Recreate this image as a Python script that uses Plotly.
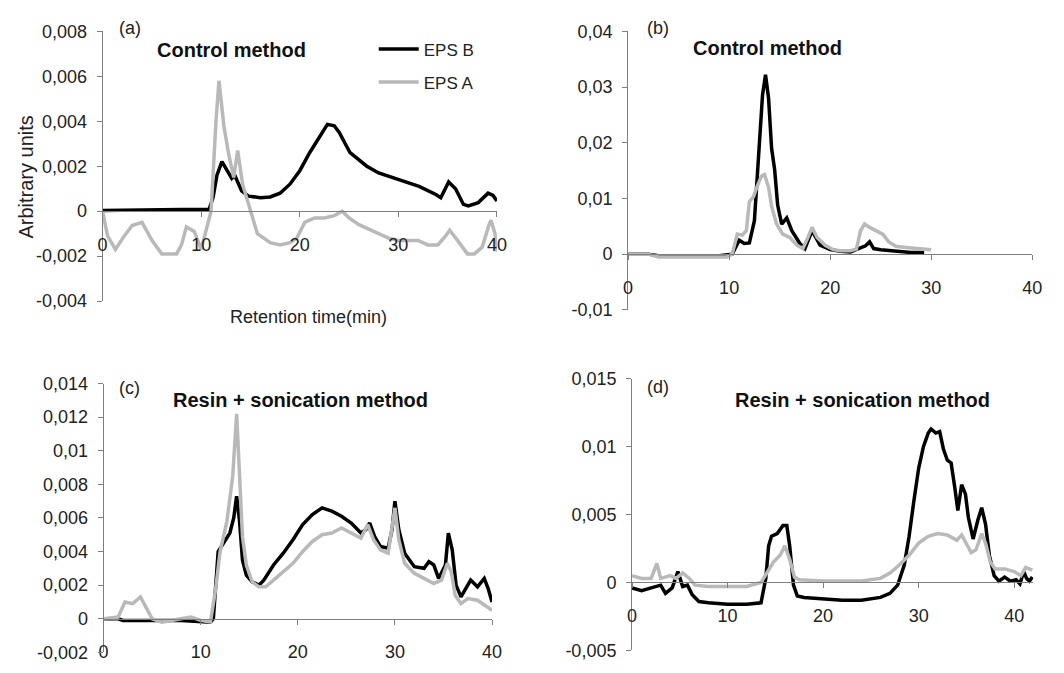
import plotly.graph_objects as go

# ---------------- data ----------------
# Panel (a) Control method
a_b_t = [0, 2, 4, 6, 8, 10, 10.8, 11.2, 11.6, 12.1, 12.5, 13.1, 13.4, 14.1, 14.8, 16, 17, 18, 19, 20, 21, 22,
         22.8, 23.5, 24, 25.1, 26, 26.8, 28, 30.1, 32.1, 33.8, 34.3, 35.1, 35.8, 36.6, 37.1, 38.1, 39.1, 39.6, 40]
a_b_v = [0.00003, 0.00005, 0.00006, 0.00006, 0.00007, 0.00008, 0.00008, 0.0006, 0.0016, 0.0022, 0.0019, 0.00146,
         0.0016, 0.0009, 0.00067, 0.0006, 0.00063, 0.0008, 0.0012, 0.0018, 0.0026, 0.0033, 0.00386, 0.0038, 0.0035,
         0.0026, 0.0023, 0.002, 0.0017, 0.0014, 0.0011, 0.00074, 0.0006, 0.0013, 0.001, 0.0003, 0.00023, 0.00038,
         0.0008, 0.0007, 0.00045]
a_a_t = [0, 0.5, 1.3, 2.2, 3, 4, 5, 6, 7.5, 8, 8.5, 9.3, 10, 10.5, 11, 11.5, 11.8, 12.3, 12.8, 13.3, 13.7, 14.2,
         14.7, 15, 15.7, 17, 18, 19, 19.7, 20.5, 21.5, 22.5, 23.5, 24.3, 25, 26, 27, 28, 29, 30, 32, 33, 34, 34.8,
         35.2, 36, 37, 37.7, 38.5, 39.2, 39.4, 39.8, 40]
a_a_v = [0, -0.0011, -0.0017, -0.0011, -0.00064, -0.0005, -0.0013, -0.0019, -0.0019, -0.0015, -0.0007, -0.0009,
         -0.0017, -0.0008, 0, 0.004, 0.0058, 0.0038, 0.0025, 0.0015, 0.0027, 0.0012, 0.0005, 0, -0.001, -0.0014,
         -0.0015, -0.0014, -0.0012, -0.0005, -0.0003, -0.0003, -0.0002, 0, -0.0003, -0.0006, -0.0008, -0.001,
         -0.0012, -0.0013, -0.0013, -0.0015, -0.0015, -0.0011, -0.00085, -0.0013, -0.0019, -0.0019, -0.0016,
         -0.0006, -0.0004, -0.001, -0.0018]

# Panel (b) Control method
b_b_t = [0, 2, 3, 6, 9, 10.3, 11, 11.5, 12, 12.5, 13, 13.3, 13.6, 13.9, 14.2, 14.5, 14.8, 15.2, 15.7, 16.2, 17,
         17.5, 18.2, 19, 20, 21, 22, 22.6, 23.5, 23.9, 24.3, 25, 26, 27, 28, 29.3]
b_b_v = [0, 0, -0.0003, -0.0003, -0.0003, 0, 0.0025, 0.0019, 0.002, 0.006, 0.019, 0.0285, 0.0322, 0.028, 0.019,
         0.0152, 0.0088, 0.0054, 0.0065, 0.0042, 0.0019, 0.001, 0.0042, 0.0016, 0.0008, 0.0005, 0.0004, 0.0008,
         0.0015, 0.0022, 0.001, 0.0008, 0.0006, 0.0005, 0.0003, 0.0003]
b_a_t = [0, 2, 3, 6, 9.8, 10.3, 10.8, 11.3, 11.7, 12, 12.4, 12.8, 13.2, 13.5, 13.9, 14.2, 14.7, 15.3, 16, 16.7,
         17.3, 17.8, 18.2, 18.7, 19.5, 20.3, 21, 22, 22.6, 23, 23.4, 23.9, 24.5, 25.2, 25.8, 26.5, 27.5, 28.5,
         29.5, 30]
b_a_v = [0, 0, -0.0005, -0.0005, -0.0005, 0, 0.0036, 0.0034, 0.0042, 0.0094, 0.0103, 0.0123, 0.014, 0.0143,
         0.012, 0.0086, 0.0054, 0.0036, 0.003, 0.0016, 0.001, 0.003, 0.0048, 0.003, 0.0016, 0.0008, 0.0006,
         0.0006, 0.0009, 0.0042, 0.0054, 0.0048, 0.0042, 0.0036, 0.0022, 0.0014, 0.0012, 0.001, 0.0009, 0.0008]

# Panel (c) Resin + sonication method
c_b_t = [0, 1.5, 2, 5, 8, 11, 11.3, 11.8, 12.5, 13, 13.4, 13.7, 14, 14.3, 14.7, 15.3, 16, 16.5, 17.5, 18.5, 19.5,
         20.5, 21.5, 22.5, 23.5, 24.5, 25.5, 26.5, 27, 27.4, 27.9, 28.5, 29.3, 29.7, 30, 30.4, 31, 32, 33, 33.5,
         34, 34.5, 35.2, 35.5, 35.9, 36.3, 36.8, 37.3, 37.8, 38.5, 39.2, 39.6, 40]
c_b_v = [0, 0, -0.0001, -0.0001, -0.0001, -0.0002, 0, 0.004, 0.0047, 0.0051, 0.006, 0.0073, 0.0058, 0.0035,
         0.0026, 0.0022, 0.002, 0.0023, 0.0032, 0.0039, 0.0047, 0.0056, 0.0062, 0.0066, 0.0064, 0.0061, 0.0057,
         0.0051, 0.0053, 0.0057, 0.0049, 0.0043, 0.0042, 0.0053, 0.007, 0.0053, 0.0039, 0.0031, 0.003, 0.0034,
         0.0032, 0.0024, 0.0032, 0.0051, 0.0041, 0.002, 0.0013, 0.0018, 0.0023, 0.0019, 0.0024, 0.0018, 0.001]
c_a_t = [0, 1.5, 2.2, 3, 3.8, 4.4, 5, 6, 8, 9, 10, 11, 11.5, 12, 12.7, 13.3, 13.7, 14, 14.3, 14.7, 15.3, 16, 16.7,
         17.5, 18.5, 19.5, 20.5, 21.5, 22.5, 23.5, 24.5, 25.5, 26.5, 27.2, 27.8, 28.5, 29.3, 30, 30.4, 31, 32, 33,
         34, 34.8, 35.4, 35.8, 36.2, 36.8, 37.5, 38.5, 39.3, 40]
c_a_v = [0, 0.0001, 0.001, 0.0009, 0.0013, 0.0007, 0, -0.0002, 0, 0.0001, -0.0001, -0.0002, 0.0016, 0.004,
         0.0058, 0.0085, 0.0122, 0.0089, 0.0049, 0.0032, 0.0022, 0.0019, 0.0019, 0.0023, 0.0028, 0.0033, 0.004,
         0.0046, 0.005, 0.0051, 0.0054, 0.0051, 0.0048, 0.0056, 0.0047, 0.0041, 0.0039, 0.0066, 0.0047, 0.0033,
         0.0027, 0.0024, 0.0021, 0.0023, 0.0033, 0.0028, 0.0014, 0.0009, 0.0012, 0.0011, 0.0008, 0.0005]

# Panel (d) Resin + sonication method
d_b_t = [0, 1, 2, 3, 3.5, 4.2, 4.8, 5.3, 5.8, 6.3, 7, 8, 10, 12, 13.5, 14, 14.3, 14.6, 15.2, 15.8, 16.2, 16.5,
         16.9, 17.3, 18, 20, 22, 24, 26, 27, 27.8, 28.5, 29, 29.5, 30, 30.5, 31, 31.3, 31.8, 32.2, 32.6, 33, 33.4,
         33.8, 34.1, 34.5, 34.9, 35.2, 35.7, 36.2, 36.6, 37, 37.4, 37.9, 38.4, 39, 39.6, 40.2, 40.6, 41, 41.3,
         41.6, 41.9]
d_b_v = [-0.0004, -0.0006, -0.0004, -0.0002, -0.0008, -0.0004, 0.0008, -0.0003, -0.0002, -0.0009, -0.0014,
         -0.0015, -0.0016, -0.0016, -0.0015, 0.0003, 0.0027, 0.0034, 0.0036, 0.0042, 0.0042, 0.0027, -0.0002,
         -0.001, -0.0011, -0.0012, -0.0013, -0.0013, -0.0011, -0.0008, -0.0002, 0.0013, 0.0034, 0.006, 0.0084,
         0.01, 0.011, 0.0113, 0.011, 0.0111, 0.0098, 0.009, 0.0088, 0.0069, 0.0053, 0.0072, 0.0065, 0.0048,
         0.0032, 0.0046, 0.0055, 0.0043, 0.002, 0.0005, 0.0001, 0.0004, 0.0001, 0.0002, -0.0001, 0.0008, 0.0003,
         0.0001, 0.0004]
d_a_t = [0, 1, 2, 2.6, 3, 3.5, 4, 4.6, 5.3, 6, 6.6, 8, 10, 12, 13.5, 14.2, 14.8, 15.5, 16, 16.5, 17, 17.5, 20,
         24, 26, 27, 28, 29, 30, 31, 32, 33, 34, 34.5, 35, 35.5, 36, 36.6, 37, 37.5, 38, 39, 40, 40.7, 41.2, 41.9]
d_a_v = [0.0005, 0.0003, 0.0003, 0.0014, 0.0003, 0.0004, 0.0005, 0.0003, 0.0007, 0.0003, -0.0002, -0.0003,
         -0.0003, -0.0003, 0, 0.0008, 0.0015, 0.002, 0.0027, 0.0017, 0.0004, 0.0002, 0.0001, 0.0001, 0.0003,
         0.0007, 0.0013, 0.002, 0.0029, 0.0034, 0.0036, 0.0035, 0.0031, 0.0035, 0.0029, 0.0022, 0.0024, 0.0036,
         0.0029, 0.0015, 0.001, 0.001, 0.0008, 0.0005, 0.0011, 0.0009]

series_names = ["EPS B", "EPS A"]
panel_letters = ["(a)", "(b)", "(c)", "(d)"]
panel_titles = ["Control method", "Control method", "Resin + sonication method", "Resin + sonication method"]
x_ticks = [0, 10, 20, 30, 40]
a_yticks = [-0.004, -0.002, 0, 0.002, 0.004, 0.006, 0.008]
a_ylabels = ["-0,004", "-0,002", "0", "0,002", "0,004", "0,006", "0,008"]
b_yticks = [-0.01, 0, 0.01, 0.02, 0.03, 0.04]
b_ylabels = ["-0,01", "0", "0,01", "0,02", "0,03", "0,04"]
c_yticks = [-0.002, 0, 0.002, 0.004, 0.006, 0.008, 0.01, 0.012, 0.014]
c_ylabels = ["-0,002", "0", "0,002", "0,004", "0,006", "0,008", "0,01", "0,012", "0,014"]
d_yticks = [-0.005, 0, 0.005, 0.01, 0.015]
d_ylabels = ["-0,005", "0", "0,005", "0,01", "0,015"]
y_axis_title = "Arbitrary units"
x_axis_title = "Retention time(min)"

# ---------------- layout geometry (pixels of the 1064x673 page) ----------------
W, H = 1064, 673
FONT = "Liberation Sans, Arial, sans-serif"
BLACK = "#000000"
GREY = "#b9b9b9"
AXIS = "#7f7f7f"

panels = [
    dict(px=(99, 499), py=(300, 22), xr=[0, 40], yr=[-0.004, 0.008], yt=a_yticks, yl=a_ylabels,
         b=(a_b_t, a_b_v), a=(a_a_t, a_a_v)),
    dict(px=(632, 1042), py=(309, 22), xr=[0, 40], yr=[-0.01, 0.04], yt=b_yticks, yl=b_ylabels,
         b=(b_b_t, b_b_v), a=(b_a_t, b_a_v)),
    dict(px=(100, 494), py=(662, 385), xr=[0, 40], yr=[-0.002, 0.014], yt=c_yticks, yl=c_ylabels,
         b=(c_b_t, c_b_v), a=(c_a_t, c_a_v)),
    dict(px=(636, 1043), py=(660, 380), xr=[0, 42], yr=[-0.005, 0.015], yt=d_yticks, yl=d_ylabels,
         b=(d_b_t, d_b_v), a=(d_a_t, d_a_v)),
]

fig = go.Figure()
layout = {}
for i, p in enumerate(panels):
    n = "" if i == 0 else str(i + 1)
    xd = [p["px"][0] / W, p["px"][1] / W]
    yd = [1 - p["py"][0] / H, 1 - p["py"][1] / H]
    y0, y1 = p["yr"]
    zero_pos = yd[0] + (0 - y0) / (y1 - y0) * (yd[1] - yd[0])
    layout["xaxis" + n] = dict(
        domain=xd, range=p["xr"], anchor="free", position=zero_pos,
        showline=True, linecolor=AXIS, linewidth=1, showgrid=False, zeroline=False,
        tickvals=x_ticks, ticks="outside", ticklen=5, tickcolor=AXIS,
        ticklabelstandoff=12,
        tickfont=dict(family=FONT, size=18, color="#222"),
    )
    layout["yaxis" + n] = dict(
        domain=yd, range=p["yr"], anchor="x" + n,
        showline=True, linecolor=AXIS, linewidth=1, showgrid=False, zeroline=False,
        tickvals=p["yt"], ticktext=p["yl"], ticks="outside", ticklen=5, tickcolor=AXIS,
        ticklabelstandoff=6,
        tickfont=dict(family=FONT, size=18, color="#222"),
    )
    xa = "x" + n
    ya = "y" + n
    fig.add_trace(go.Scatter(x=p["b"][0], y=p["b"][1], mode="lines", name=series_names[0],
                             line=dict(color=BLACK, width=3.5), xaxis=xa, yaxis=ya,
                             showlegend=(i == 0), legendgroup="b"))
    fig.add_trace(go.Scatter(x=p["a"][0], y=p["a"][1], mode="lines", name=series_names[1],
                             line=dict(color=GREY, width=3.5), xaxis=xa, yaxis=ya,
                             showlegend=(i == 0), legendgroup="a"))

annotations = []
letter_pos = [(127, 19), (662, 19), (126, 390), (662, 389)]
title_pos = [(230, 41), (773, 39), (300, 402), (870, 402)]
for i in range(4):
    annotations.append(dict(x=letter_pos[i][0] / W, y=1 - letter_pos[i][1] / H, xref="paper", yref="paper",
                            text=panel_letters[i], showarrow=False, xanchor="center", yanchor="middle",
                            font=dict(family=FONT, size=18, color="#222")))
    annotations.append(dict(x=title_pos[i][0] / W, y=1 - title_pos[i][1] / H, xref="paper", yref="paper",
                            text="<b>" + panel_titles[i] + "</b>", showarrow=False, xanchor="center",
                            yanchor="middle", font=dict(family=FONT, size=20, color="#111")))
annotations.append(dict(x=21 / W, y=1 - 172 / H, xref="paper", yref="paper", text=y_axis_title,
                        showarrow=False, textangle=-90, xanchor="center", yanchor="middle",
                        font=dict(family=FONT, size=20, color="#222")))
annotations.append(dict(x=308 / W, y=1 - 316 / H, xref="paper", yref="paper", text=x_axis_title,
                        showarrow=False, xanchor="center", yanchor="middle",
                        font=dict(family=FONT, size=18, color="#222")))

fig.update_layout(
    **layout,
    annotations=annotations,
    width=W, height=H,
    margin=dict(l=0, r=0, t=0, b=0, pad=0),
    paper_bgcolor="white", plot_bgcolor="white",
    showlegend=True,
    legend=dict(x=374 / W, y=1 - 22 / H, xanchor="left", yanchor="top",
                bgcolor="rgba(0,0,0,0)", font=dict(family=FONT, size=17, color="#222"),
                tracegroupgap=8, itemwidth=40),
)
fig.write_html("out.html", config={"displayModeBar": False},
               post_script="document.body.style.margin='0';document.body.style.overflow='hidden';")
